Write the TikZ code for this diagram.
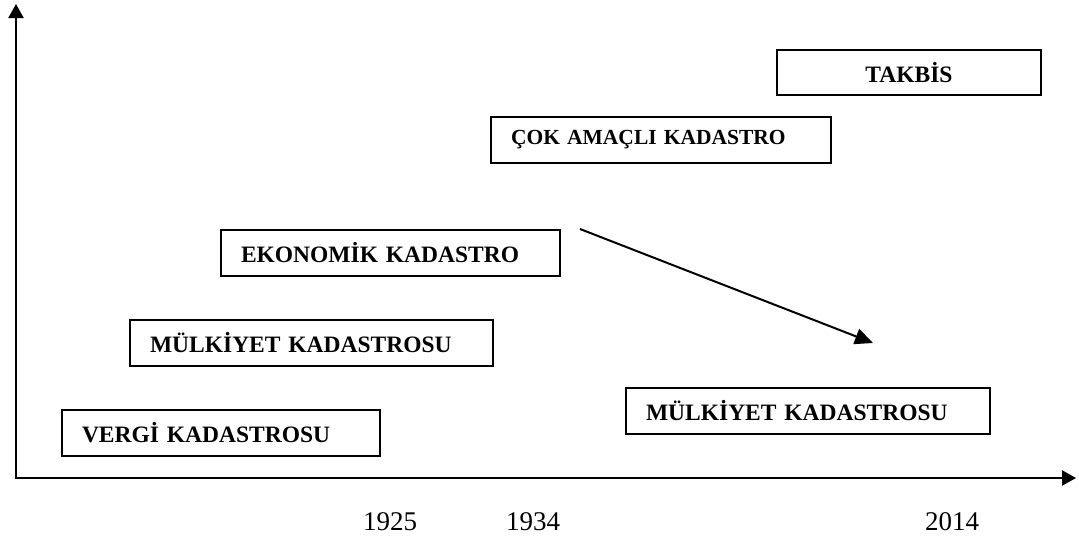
\documentclass[tikz,border=0pt]{standalone}
\usepackage{fontspec}
\setmainfont{Liberation Serif}
\usetikzlibrary{arrows.meta}
\begin{document}
\begin{tikzpicture}[x=1pt,y=-1pt,
  box/.style={draw=black,line width=2pt,rectangle,anchor=north west,
    font=\fontsize{23.5}{28}\selectfont\bfseries,inner ysep=0pt,
    inner xsep=20pt,align=left},
  year/.style={font=\fontsize{27}{32}\selectfont,anchor=base,inner sep=0pt},
  axis/.style={line width=2.2pt,-{Triangle[length=14pt,width=15pt]}},
  conn/.style={line width=2pt,-{Triangle[length=18pt,width=16pt]}}]
\useasboundingbox (0,0) rectangle (1079,541);
% axes
\coordinate (o) at (16,478);
\coordinate (ytop) at (16,4);
\coordinate (xend) at (1076,478);
\draw[axis] ([yshift=1pt]o) -- (ytop);
\draw[axis] ([xshift=-1pt]o) -- (xend);
% boxes
\node[box,minimum width=318pt,minimum height=46pt,text width=278pt] (vergi) at (61,409) {VERGİ KADASTROSU};
\node[box,minimum width=363pt,minimum height=46pt,text width=323pt] (mulk1) at (129,319) {MÜLKİYET KADASTROSU};
\node[box,minimum width=339pt,minimum height=46pt,text width=299pt] (ekon) at (220,229) {EKONOMİK KADASTRO};
\node[box,minimum width=340pt,minimum height=46pt,text width=300pt,font=\fontsize{21.5}{26}\selectfont\bfseries] (cok) at (490,116) {ÇOK AMAÇLI KADASTRO};
\node[box,minimum width=264pt,minimum height=45pt,text width=224pt,align=center] (takbis) at (776,49) {TAKBİS};
\node[box,minimum width=364pt,minimum height=46pt,text width=324pt] (mulk2) at (625,387) {MÜLKİYET KADASTROSU};
% arrow
\coordinate (as) at (580,229);
\coordinate (ae) at (873,343);
\draw[conn] (as) -- (ae);
% years
\node[year] (y1925) at (390,530) {1925};
\node[year] (y1934) at (533,530) {1934};
\node[year] (y2014) at (952,530) {2014};
\end{tikzpicture}
\end{document}
